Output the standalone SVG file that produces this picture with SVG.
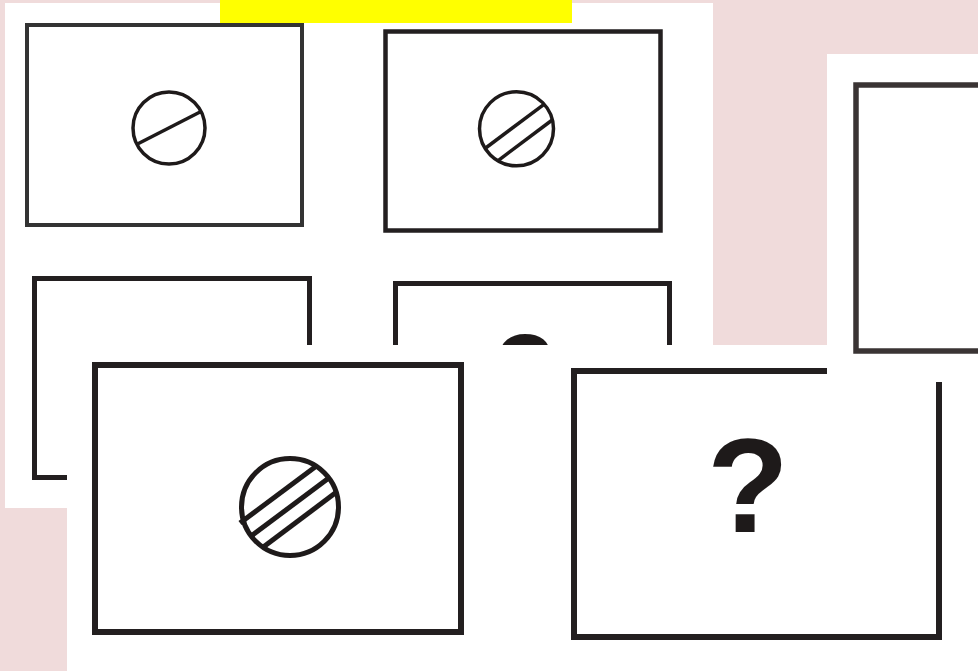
<svg xmlns="http://www.w3.org/2000/svg" width="978" height="671" viewBox="0 0 978 671">
<style>
.panel{fill:#ffffff}
.frame{fill:none;stroke:#231f20;stroke-linejoin:miter}
.ring{fill:none;stroke:#1e1a1a}
.bar{stroke:#1e1a1a;stroke-linecap:butt}
.q{font-family:"Liberation Sans",Arial,sans-serif;font-weight:bold;fill:#1e1a1a;text-anchor:middle}
</style>
<rect x="0" y="0" width="978" height="671" fill="#f0dbdb"/>

<g id="back-sheet">
  <rect class="panel" x="5" y="3" width="708" height="505"/>
  <g id="card-1">
    <rect class="frame" x="27" y="25" width="275" height="200" stroke-width="4" style="stroke:#333"/>
    <circle class="ring" cx="169" cy="128" r="36" stroke-width="3.5"/>
    <line class="bar" x1="136.5" y1="144.5" x2="202" y2="111" stroke-width="3.5"/>
  </g>
  <g id="card-2">
    <rect class="frame" x="385.5" y="31.5" width="275" height="199" stroke-width="4.5"/>
    <circle class="ring" cx="516.5" cy="128.8" r="37" stroke-width="3.5"/>
    <line class="bar" x1="485" y1="148.5" x2="544" y2="104.3" stroke-width="3.5"/>
    <line class="bar" x1="497.8" y1="160.8" x2="552.2" y2="120" stroke-width="3.5"/>
  </g>
  <g id="card-3">
    <rect class="frame" x="34.5" y="278.5" width="275" height="199" stroke-width="5"/>
  </g>
  <g id="card-4">
    <rect class="frame" x="395.5" y="283.5" width="274" height="200" stroke-width="5"/>
    <text class="q" x="525" y="404" font-size="100">?</text>
  </g>
</g>

<g id="front-sheet">
  <rect class="panel" x="67" y="345" width="911" height="326"/>
  <g id="card-5">
    <rect class="frame" x="95" y="365" width="366" height="267" stroke-width="6"/>
    <circle class="ring" cx="290" cy="507" r="48.5" stroke-width="5"/>
    <line class="bar" x1="240" y1="523" x2="316.1" y2="466.2" stroke-width="5"/>
    <line class="bar" x1="251.2" y1="536.1" x2="328.8" y2="477.9" stroke-width="5"/>
    <line class="bar" x1="263" y1="547.3" x2="336.2" y2="492.3" stroke-width="5"/>
  </g>
  <g id="card-6">
    <rect class="frame" x="574" y="371" width="365" height="266" stroke-width="6"/>
    <text class="q" x="748" y="532" font-size="134">?</text>
  </g>
</g>

<g id="right-sheet">
  <rect class="panel" x="827" y="54" width="151" height="328"/>
  <g id="card-7">
    <rect class="frame" x="856" y="85" width="200" height="266" stroke-width="5.5" style="stroke:#3a3434"/>
  </g>
</g>

<g id="title-bar">
  <rect x="220" y="0" width="352" height="23" fill="#ffff00"/>
</g>
<g id="connectors"></g>
</svg>
